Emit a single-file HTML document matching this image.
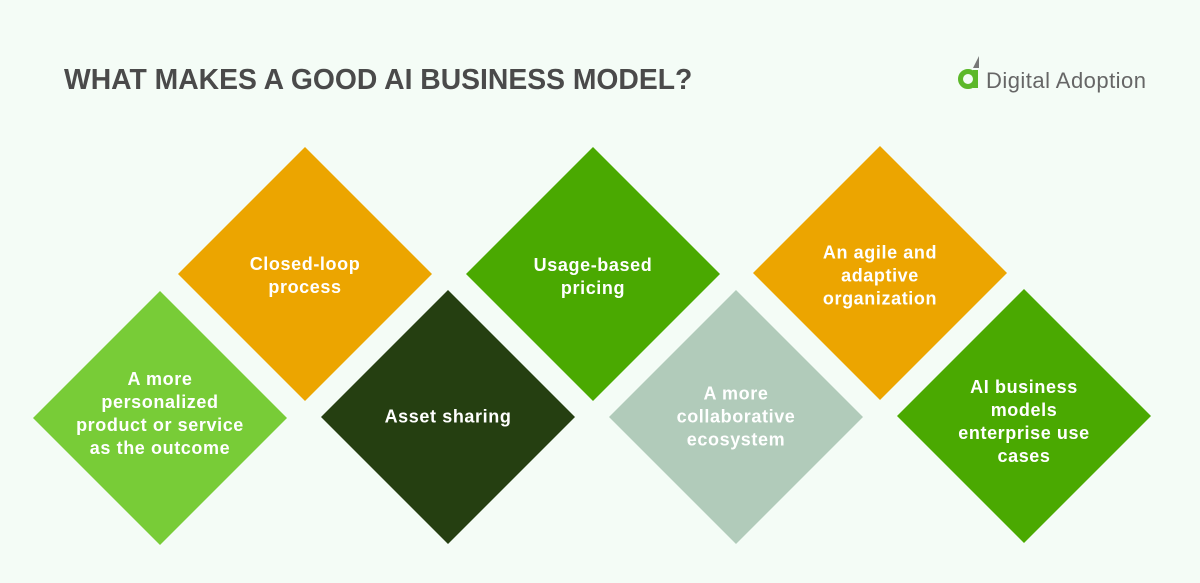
<!DOCTYPE html>
<html><head><style>
html,body{margin:0;padding:0;}
body{width:1200px;height:583px;background:#f4fcf6;position:relative;overflow:hidden;font-family:"Liberation Sans",sans-serif;}
.t{position:absolute;width:220px;text-align:center;color:#fff;font-weight:bold;font-size:18px;letter-spacing:0.6px;line-height:23px;transform:translate(-50%,-50%);}
h1{position:absolute;left:64px;top:63px;margin:0;font-size:28.3px;font-weight:bold;color:#4a4a4a;white-space:nowrap;}
</style></head><body>
<h1>WHAT MAKES A GOOD AI BUSINESS MODEL?</h1>
<svg width="1200" height="583" style="position:absolute;left:0;top:0">
<polygon points="160,291 287,418 160,545 33,418" fill="#78cc37"/>
<polygon points="305,147 432,274 305,401 178,274" fill="#eca500"/>
<polygon points="448,290 575,417 448,544 321,417" fill="#253f11"/>
<polygon points="593,147 720,274 593,401 466,274" fill="#4aa901"/>
<polygon points="736,290 863,417 736,544 609,417" fill="#b1cbba"/>
<polygon points="880,146 1007,273 880,400 753,273" fill="#eca500"/>
<polygon points="1024,289 1151,416 1024,543 897,416" fill="#4aa901"/>
<circle cx="968" cy="79" r="7.5" fill="none" stroke="#5cb82a" stroke-width="5"/>
<rect x="973" y="70" width="5" height="18" fill="#5cb82a"/>
<polygon points="973,68 979,56 979,68" fill="#777"/>
<text x="986" y="88" font-family="Liberation Sans,sans-serif" font-size="22" fill="#666" textLength="160">Digital Adoption</text>
</svg>
<div class="t" style="left:160px;top:414px">A more<br>personalized<br>product or service<br>as the outcome</div>
<div class="t" style="left:305px;top:276px">Closed-loop<br>process</div>
<div class="t" style="left:448px;top:417px">Asset sharing</div>
<div class="t" style="left:593px;top:277px">Usage-based<br>pricing</div>
<div class="t" style="left:736px;top:417px">A more<br>collaborative<br>ecosystem</div>
<div class="t" style="left:880px;top:276px">An agile and<br>adaptive<br>organization</div>
<div class="t" style="left:1024px;top:422px">AI business<br>models<br>enterprise use<br>cases</div>
</body></html>
